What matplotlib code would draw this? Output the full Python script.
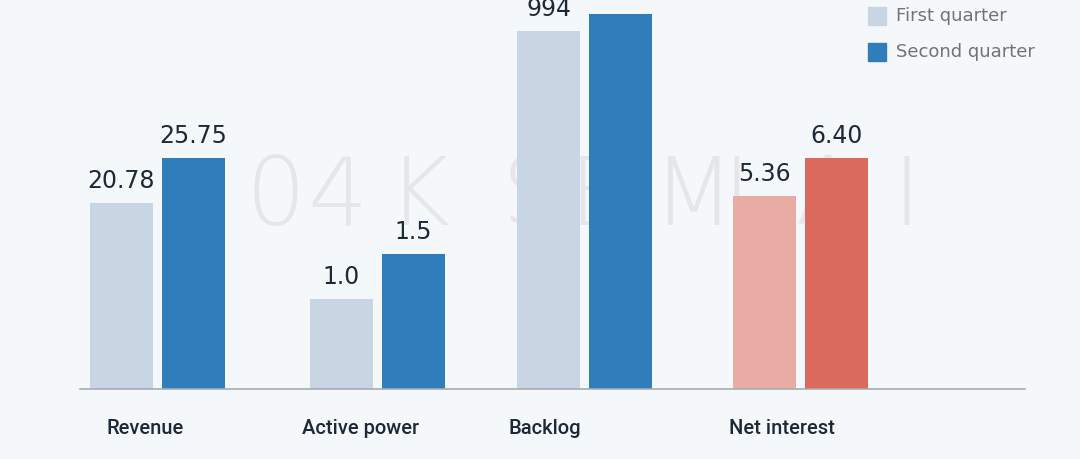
import numpy as np
import matplotlib
matplotlib.use("Agg")
import matplotlib.pyplot as plt
from matplotlib.patches import Rectangle

# chart data
categories = ["Revenue", "Active power", "Backlog", "Net interest"]
first_quarter = [20.78, 1.0, 994, 5.36]
second_quarter = [25.75, 1.5, 1041, 6.40]
first_labels = ["20.78", "1.0", "994", "5.36"]
second_labels = ["25.75", "1.5", "", "6.40"]
series_names = ["First quarter", "Second quarter"]

# each group is drawn on its own scale (value at the top of the plot area)
group_scale = [43.4, 4.32, 1080.0, 10.78]

bg = "#f5f8fb"
c_first = "#c8d5e2"
c_second = "#2f7dbb"
c_first_red = "#e8aca5"
c_second_red = "#d96a5c"
text_dark = "#1d2838"

fig = plt.figure(figsize=(10.8, 4.59), dpi=100, facecolor=bg)
W, H = 1080, 459
x0, x1, base = 80, 1025, 389
ax = fig.add_axes([x0 / W, (H - base) / H, (x1 - x0) / W, base / H])
ax.set_facecolor("none")

# layout in pixel units along x
centers = np.array([157.5, 377.5, 584.5, 800.5])
label_left = [107, 302, 509, 729]
width = 63
off = 36
ax.set_xlim(x0, x1)
ax.set_ylim(0, 1)

first_h = [v / s for v, s in zip(first_quarter, group_scale)]
second_h = [v / s for v, s in zip(second_quarter, group_scale)]

col1 = [c_first] * 3 + [c_first_red]
col2 = [c_second] * 3 + [c_second_red]
b1 = ax.bar(centers - off, first_h, width, color=col1, zorder=2)
b2 = ax.bar(centers + off, second_h, width, color=col2, zorder=2)

for bars, labels in ((b1, first_labels), (b2, second_labels)):
    for r, lab in zip(bars, labels):
        if lab:
            ax.annotate(lab, (r.get_x() + r.get_width() / 2, r.get_height()),
                        xytext=(0, 10), textcoords="offset pixels",
                        ha="center", va="bottom", fontsize=17,
                        color=text_dark, zorder=3)

for lx, cat in zip(label_left, categories):
    ax.annotate(cat, (lx, 0), xytext=(0, -39),
                textcoords="offset pixels", ha="left", va="center",
                fontsize=14.5, fontweight="medium", family="Roboto",
                color=text_dark, annotation_clip=False)

# watermark behind bars
wm_chars = "04KSEMIAI"
wm_x = [245, 307, 388, 502, 568, 653, 722, 795, 893]
for ch, wx in zip(wm_chars, wm_x):
    ax.text(wx, (base - 225) / base, ch, fontsize=68, color="#e4e6e9",
            ha="left", va="baseline", fontweight="light", zorder=0)

for s in ["top", "right", "left"]:
    ax.spines[s].set_visible(False)
ax.spines["bottom"].set_color("#a9abae")
ax.spines["bottom"].set_linewidth(1.2)
ax.set_xticks([])
ax.set_yticks([])

# legend
for k, (name, c) in enumerate(zip(series_names, [c_first, c_second])):
    yy = 16 + 36 * k
    fig.patches.append(Rectangle((868 / W, (H - yy - 9) / H), 18 / W, 18 / H,
                                 transform=fig.transFigure, color=c))
    fig.text(896 / W, (H - yy) / H, name, fontsize=13, color="#707478",
             ha="left", va="center")

fig.savefig("out.png", dpi=100, facecolor=bg)
